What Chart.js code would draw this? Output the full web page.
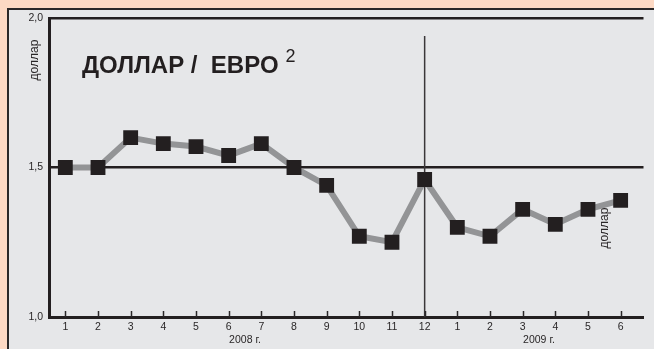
<!DOCTYPE html>
<html>
<head>
<meta charset="utf-8">
<script src="https://cdn.jsdelivr.net/npm/chart.js@4.4.0/dist/chart.umd.min.js"></script>
<style>
html, body { margin: 0; padding: 0; background: #fdd9c4; }
#wrap { width: 654px; height: 349px; }
</style>
</head>
<body>
<div id="wrap"><canvas id="canvas" width="654" height="349"></canvas></div>
<script>
// месяцы 2008-2009
var months = ["1", "2", "3", "4", "5", "6", "7", "8", "9", "10", "11", "12", "1", "2", "3", "4", "5", "6"];
var rates = [1.50, 1.50, 1.60, 1.58, 1.57, 1.54, 1.58, 1.50, 1.44, 1.27, 1.25, 1.46, 1.30, 1.27, 1.36, 1.31, 1.36, 1.39];
var yearLabels = ["2008 г.", "2009 г."];
var yearPos = [5.5, 14.5];
var yTicks = [1.0, 1.5, 2.0];
var markerIndex = 11; // декабрь 2008
var markerTop = 1.94;

var points = [];
for (var i = 0; i < rates.length; i++) {
	points.push({ x: i, y: rates[i] });
}

var decor = {
	id: 'decor',
	beforeDraw: function(chart) {
		var ctx = chart.ctx;
		ctx.save();
		ctx.fillStyle = '#fdd9c4';
		ctx.fillRect(0, 0, chart.width, chart.height);
		ctx.fillStyle = '#e6e7e9';
		ctx.fillRect(8, 9, chart.width - 8, chart.height - 9);
		ctx.strokeStyle = '#2a2728';
		ctx.lineWidth = 2;
		ctx.beginPath();
		ctx.moveTo(8, chart.height);
		ctx.lineTo(8, 9);
		ctx.lineTo(chart.width, 9);
		ctx.stroke();
		ctx.restore();
	},
	afterDraw: function(chart) {
		var ctx = chart.ctx;
		var xs = chart.scales.x;
		var area = chart.chartArea;
		ctx.save();
		// риски на оси
		ctx.strokeStyle = '#2a2728';
		ctx.lineWidth = 1.5;
		for (var i = 0; i < months.length; i++) {
			var px = Math.round(xs.getPixelForValue(i)) + 0.5;
			ctx.beginPath();
			ctx.moveTo(px, area.bottom);
			ctx.lineTo(px, area.bottom - 6);
			ctx.stroke();
		}
		// годы
		ctx.fillStyle = '#2a2728';
		ctx.font = '10.5px "Liberation Sans", Arial, sans-serif';
		ctx.textAlign = 'center';
		ctx.textBaseline = 'middle';
		for (var j = 0; j < yearLabels.length; j++) {
			ctx.fillText(yearLabels[j], xs.getPixelForValue(yearPos[j]), 340);
		}
		// заголовок
		ctx.fillStyle = '#231f20';
		ctx.textAlign = 'left';
		ctx.textBaseline = 'alphabetic';
		ctx.font = 'bold 24px "Liberation Sans", Arial, sans-serif';
		ctx.fillText('ДОЛЛАР /  ЕВРО', 82, 73);
		var tw = ctx.measureText('ДОЛЛАР /  ЕВРО').width;
		ctx.font = '18px "Liberation Sans", Arial, sans-serif';
		ctx.fillText('2', 82 + tw + 7, 62);
		// подписи "доллар"
		ctx.fillStyle = '#2a2728';
		ctx.font = '12px "Liberation Sans", Arial, sans-serif';
		ctx.textAlign = 'center';
		ctx.textBaseline = 'middle';
		ctx.save();
		ctx.translate(35, 60);
		ctx.rotate(-Math.PI / 2);
		ctx.fillText('доллар', 0, 0);
		ctx.restore();
		ctx.save();
		ctx.translate(605, 228);
		ctx.rotate(-Math.PI / 2);
		ctx.fillText('доллар', 0, 0);
		ctx.restore();
		ctx.restore();
	}
};

var ctx = document.getElementById("canvas").getContext("2d");
window.myLine = new Chart(ctx, {
	type: 'line',
	data: {
		datasets: [{
			label: 'dec',
			data: [{ x: markerIndex, y: yTicks[0] }, { x: markerIndex, y: markerTop }],
			borderColor: '#3a3738',
			borderWidth: 1.5,
			pointRadius: 0,
			order: 2
		}, {
			label: 'rate',
			data: points,
			borderColor: '#939496',
			borderWidth: 6,
			pointStyle: 'rect',
			pointRadius: 10.5,
			pointBackgroundColor: '#231f20',
			pointBorderWidth: 0,
			tension: 0,
			order: 1
		}]
	},
	options: {
		responsive: false,
		animation: false,
		layout: { padding: { top: 18, right: 3, left: 0, bottom: 0 } },
		plugins: {
			legend: { display: false },
			title: { display: false },
			tooltip: { enabled: false }
		},
		scales: {
			x: {
				type: 'linear',
				min: -0.5,
				max: 17.7,
				afterBuildTicks: function(scale) {
					scale.ticks = months.map(function(m, i) { return { value: i }; });
				},
				afterFit: function(scale) { scale.height = 32; },
				grid: { display: false, drawTicks: false },
				border: { display: true, color: '#231f20', width: 3 },
				ticks: {
					autoSkip: false,
					maxRotation: 0,
					padding: 4,
					color: '#2a2728',
					font: { family: '"Liberation Sans", Arial, sans-serif', size: 10.5 },
					callback: function(v) { return months[v]; }
				}
			},
			y: {
				min: 1,
				max: 2,
				afterBuildTicks: function(scale) {
					scale.ticks = yTicks.map(function(v) { return { value: v }; });
				},
				afterFit: function(scale) { scale.width = 49; },
				grid: {
					drawTicks: false,
					lineWidth: 2.5,
					color: function(c) { return c.tick && c.tick.value === 1 ? 'rgba(0,0,0,0)' : '#231f20'; }
				},
				border: { display: true, color: '#231f20', width: 3 },
				ticks: {
					padding: 6,
					color: '#2a2728',
					font: { family: '"Liberation Sans", Arial, sans-serif', size: 10.5 },
					callback: function(v) { return v.toFixed(1).replace('.', ','); }
				}
			}
		}
	},
	plugins: [decor]
});
</script>
</body>
</html>
